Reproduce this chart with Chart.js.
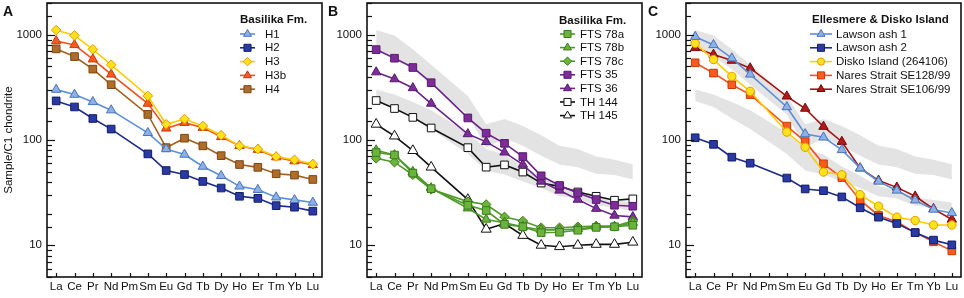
<!DOCTYPE html>
<html><head><meta charset="utf-8">
<script src="https://cdn.jsdelivr.net/npm/chart.js@4/dist/chart.umd.min.js"></script>
<style>
html,body{margin:0;padding:0;background:#fff;}
#wrap{position:relative;width:964px;height:298px;overflow:hidden;background:#fff;}
canvas{position:absolute;top:0;}
</style></head><body>
<div id="wrap">
<canvas id="cA" width="324" height="298" style="left:0px"></canvas>
<canvas id="cB" width="324" height="298" style="left:320px"></canvas>
<canvas id="cC" width="324" height="298" style="left:639px"></canvas>
</div>
<script>
// ---- categories & tick labels ----
const elements = ['La','Ce','Pr','Nd','Pm','Sm','Eu','Gd','Tb','Dy','Ho','Er','Tm','Yb','Lu'];
const yTickLabels = [10, 100, 1000];

// ---- Panel A: Basilika Fm. ----
const H1  = [301,270,230,192,null,117,82,72.8,56,45.7,36.3,33.7,28.6,27,25.5];
const H2  = [235,206,160,127,null,73.8,51.3,47,40.4,35,29.2,27.9,23.8,23,21.1];
const H3  = [1107,985,727,518,null,262,141,158,136,111,88,82,69.6,64.8,59];
const H3b = [871,800,585,420,null,222,129,146,131,107,88,81,68.7,63,58];
const H4  = [733,620,471,335,null,175,84.6,104,88,71,58.5,55,47.8,46.4,42.2];

// ---- Panel B: Basilika Fm. ----
const FTS78a = [76,72,48.5,34.5,null,24,21.4,15.8,15,13.2,13.3,13.9,14.8,15,15.5];
const FTS78b = [80,72,50,35,null,22.5,17.6,16.4,15,14,14,14.3,15,15,16.4];
const FTS78c = [67,61.6,46.8,34,null,26,24.4,18.6,17,14.7,14.7,15,15.2,15.2,17];
const FTS35  = [722,598,488,350,null,162,116,93,69.6,45.7,37,31.4,27.2,24,23.5];
const FTS36  = [441,379,312,222,null,114,96,76.4,58.5,40.4,33.2,27.2,22.3,19.2,18.6];
const TH144  = [237,199,164,130,null,84.6,55.2,58,49.6,39,36.3,32.1,29.2,26.8,27.6];
const TH145  = [141,109,79.3,55.2,null,27.2,14.2,16.1,12.4,10,9.7,10,10.2,10.2,10.7];

// ---- Panel C: Ellesmere & Disko Island ----
const Lawson1 = [958,800,598,420,null,206,114,106,80.5,54,40.4,33.2,26.8,21.9,20.3];
const Lawson2 = [105,91,68.7,60.2,null,43.5,34.3,33,28.8,22.7,18.5,16.1,13.2,11.2,10.1];
const Disko   = [828,581,402,290,null,119,85.3,49.6,46.8,30.3,23.5,18.5,17.2,15.6,15.6];
const SE128   = [541,432,335,270,null,135.5,96.4,59.4,44,26.8,19.2,16.7,13.2,10.8,8.85];
const SE106   = [749,648,568,481,null,260,199,134,96.4,54,41.3,35.5,29.2,22.2,17.6];

// envelopes of the panel A groups (grey fields in B and C)
function env(arrs, fn){ return arrs[0].map((_, i) => arrs[0][i] === null ? null : fn(...arrs.map(a => a[i]))); }
const upTop = env([H3, H3b, H4], Math.max), upBot = env([H3, H3b, H4], Math.min);
const loTop = env([H1, H2], Math.max), loBot = env([H1, H2], Math.min);

const FONT = "'Liberation Sans', Arial, Helvetica, sans-serif";

function ds(label, data, line, fill, border, style, r){
  return {label, data, borderColor: line, backgroundColor: fill, pointBackgroundColor: fill,
    pointBorderColor: border, pointStyle: style, pointRadius: r, pointBorderWidth: 1,
    borderWidth: 1.6, spanGaps: true, fill: false, order: 0, legend: true};
}
function bands(){
  const g = '#e3e3e3';
  const b = (d, f) => ({label:'', data:d, borderWidth:0, borderColor:'rgba(0,0,0,0)', pointRadius:0,
    fill:f, backgroundColor:g, spanGaps:true, order:10, legend:false});
  return [b(upTop,'+1'), b(upBot,false), b(loTop,'+1'), b(loBot,false)];
}

function marker(ctx, style, x, y, r, fill, stroke){
  ctx.beginPath();
  if (style === 'triangle') {
    ctx.moveTo(x, y - r); ctx.lineTo(x + r*0.866, y + r*0.5); ctx.lineTo(x - r*0.866, y + r*0.5); ctx.closePath();
  } else if (style === 'rect') {
    const s = r * Math.SQRT1_2; ctx.rect(x - s, y - s, 2*s, 2*s);
  } else if (style === 'rectRot') {
    ctx.moveTo(x, y - r); ctx.lineTo(x + r, y); ctx.lineTo(x, y + r); ctx.lineTo(x - r, y); ctx.closePath();
  } else {
    ctx.arc(x, y, r, 0, Math.PI*2);
  }
  ctx.fillStyle = fill; ctx.fill();
  ctx.lineWidth = 1; ctx.strokeStyle = stroke; ctx.stroke();
}

function decor(cfg){
  return {
    id: 'decor',
    afterDraw(chart){
      const ctx = chart.ctx, a = chart.chartArea, xs = chart.scales.x, ys = chart.scales.y;
      ctx.save();
      ctx.strokeStyle = '#111'; ctx.lineWidth = 1.2;
      // y ticks (inward)
      ys.ticks.forEach(t => {
        const v = t.value; if (v < ys.min || v > ys.max) return;
        const p = Math.round(ys.getPixelForValue(v)) + 0.5;
        const lg = Math.abs(Math.log10(v) - Math.round(Math.log10(v))) < 1e-9;
        ctx.beginPath(); ctx.moveTo(a.left, p); ctx.lineTo(a.left + (lg ? 8 : 5), p); ctx.stroke();
      });
      // x ticks (inward)
      elements.forEach((e, i) => {
        const p = Math.round(xs.getPixelForTick(i)) + 0.5;
        ctx.beginPath(); ctx.moveTo(p, a.bottom); ctx.lineTo(p, a.bottom - 4); ctx.stroke();
      });
      // frame
      ctx.lineWidth = 1.6;
      ctx.strokeRect(a.left, a.top, a.right - a.left, a.bottom - a.top);
      // panel letter
      ctx.fillStyle = '#111'; ctx.font = 'bold 14px ' + FONT; ctx.textBaseline = 'alphabetic'; ctx.textAlign = 'left';
      ctx.fillText(cfg.letter, cfg.letterX, 16);
      // y title
      if (cfg.ytitle) {
        ctx.save(); ctx.translate(9, (a.top + a.bottom) / 2); ctx.rotate(-Math.PI/2);
        ctx.font = '11.5px ' + FONT; ctx.textAlign = 'center'; ctx.textBaseline = 'middle';
        ctx.fillText(cfg.ytitle, 0, 0); ctx.restore();
      }
      // legend
      ctx.textAlign = 'left'; ctx.textBaseline = 'middle';
      ctx.font = 'bold 11.5px ' + FONT; ctx.fillStyle = '#111';
      ctx.fillText(cfg.legTitle, cfg.titleX, cfg.titleY);
      ctx.font = '11.5px ' + FONT;
      const items = chart.data.datasets.filter(d => d.legend);
      items.forEach((d, k) => {
        const y = cfg.itemY0 + k * cfg.itemDy;
        ctx.strokeStyle = d.borderColor; ctx.lineWidth = 1.6;
        ctx.beginPath(); ctx.moveTo(cfg.sx0, y); ctx.lineTo(cfg.sx1, y); ctx.stroke();
        const r = d.pointStyle === 'triangle' ? 4.6 : (d.pointStyle === 'rect' ? 5 : (d.pointStyle === 'circle' ? 3.6 : 4.2));
        marker(ctx, d.pointStyle, (cfg.sx0 + cfg.sx1)/2, y, r, d.pointBackgroundColor, d.pointBorderColor);
        ctx.fillStyle = '#111';
        ctx.fillText(d.label, cfg.lx, y + 0.5);
      });
      ctx.restore();
    }
  };
}

function makeChart(id, datasets, cfg){
  new Chart(document.getElementById(id), {
    type: 'line',
    data: {labels: elements, datasets},
    options: {
      responsive: false, animation: false, devicePixelRatio: 1,
      layout: {autoPadding: false, padding: {left: 0, right: 2, top: 3, bottom: 0}},
      plugins: {legend: {display: false}, tooltip: {enabled: false}},
      elements: {line: {tension: 0}},
      scales: {
        x: {type: 'category', offset: true,
            grid: {display: false, drawTicks: false}, border: {display: false},
            ticks: {autoSkip: false, maxRotation: 0, minRotation: 0, padding: 3, color: '#111',
                    font: {family: FONT, size: 11.5}},
            afterFit(s){ s.height = 21; s.paddingLeft = 0; s.paddingRight = 0; }},
        y: {type: 'logarithmic', min: 5, max: 2000,
            grid: {display: false, drawTicks: false}, border: {display: false},
            ticks: {autoSkip: false, padding: 5, color: '#111', font: {family: FONT, size: 11.5},
                    callback: v => yTickLabels.includes(Math.round(v)) && Math.abs(v - Math.round(v)) < 1e-6 ? String(Math.round(v)) : ''},
            afterFit(s){ s.width = 47; s.paddingTop = 0; s.paddingBottom = 0; }}
      }
    },
    plugins: [decor(cfg)]
  });
}

// colours
const cH1 = ['#5b8fd8','#8bb1e8','#4a72b5'];
const cH2 = ['#1c2a8c','#2a3aa2','#121d6a'];
const cH3 = ['#ffcc00','#ffe21a','#e09a00'];
const cH3b= ['#f4511c','#ff5a1e','#c23a0a'];
const cH4 = ['#a0611f','#b06d2a','#7a4714'];
const cGr = ['#4f9a2a','#6ab43c','#3c7a1c'];
const cPu = ['#6b2388','#7d2c9a','#561b6e'];
const cBk = ['#111111','#ffffff','#111111'];
const cRd = ['#a51212','#b41a1a','#740808'];

makeChart('cA', [
  ds('H1', H1, ...cH1, 'triangle', 5.4),
  ds('H2', H2, ...cH2, 'rect', 5.4),
  ds('H3', H3, ...cH3, 'rectRot', 4.8),
  ds('H3b', H3b, ...cH3b, 'triangle', 5.4),
  ds('H4', H4, ...cH4, 'rect', 5.4)
], {letter:'A', letterX:3, ytitle:'Sample/C1 chondrite', legTitle:'Basilika Fm.', titleX:240, titleY:20,
    itemY0:34, itemDy:13.8, sx0:240, sx1:255, lx:265});

makeChart('cB', [
  ...bands(),
  ds('FTS 78a', FTS78a, ...cGr, 'rect', 5.4),
  ds('FTS 78b', FTS78b, ...cGr, 'triangle', 5.4),
  ds('FTS 78c', FTS78c, ...cGr, 'rectRot', 4.8),
  ds('FTS 35', FTS35, ...cPu, 'rect', 5.4),
  ds('FTS 36', FTS36, ...cPu, 'triangle', 5.4),
  ds('TH 144', TH144, ...cBk, 'rect', 5.4),
  ds('TH 145', TH145, ...cBk, 'triangle', 5.8)
], {letter:'B', letterX:8, legTitle:'Basilika Fm.', titleX:239, titleY:21,
    itemY0:34, itemDy:13.6, sx0:240, sx1:255, lx:260});

makeChart('cC', [
  ...bands(),
  ds('Lawson ash 1', Lawson1, ...cH1, 'triangle', 5.4),
  ds('Lawson ash 2', Lawson2, ...cH2, 'rect', 5.4),
  ds('Disko Island (264106)', Disko, ...cH3, 'circle', 4.2),
  ds('Nares Strait SE128/99', SE128, ...cH3b, 'rect', 5.4),
  ds('Nares Strait SE106/99', SE106, ...cRd, 'triangle', 5.4)
], {letter:'C', letterX:9, legTitle:'Ellesmere & Disko Island', titleX:173, titleY:20,
    itemY0:34, itemDy:13.8, sx0:171, sx1:193, lx:197});
</script>
</body></html>
